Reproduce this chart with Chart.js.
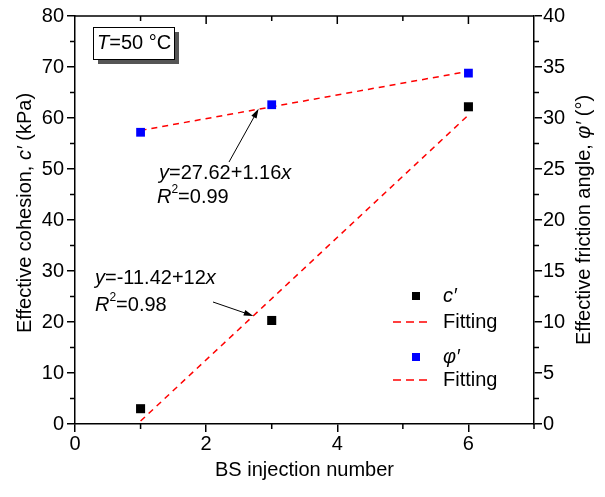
<!DOCTYPE html>
<html>
<head>
<meta charset="utf-8">
<script src="https://cdn.jsdelivr.net/npm/chart.js@4.4.1/dist/chart.umd.min.js"></script>
<style>
  html, body { margin: 0; padding: 0; background: #fff; }
  canvas { display: block; }
</style>
</head>
<body>
<canvas id="cohesion" width="605" height="497"></canvas>
<script>
const injections = [1, 3, 6];
const cohesion = [3.0, 20.3, 62.2];       // c' (kPa), left axis
const frictionAngle = [28.6, 31.3, 34.4]; // phi' (deg), right axis
const fitRange = [1, 6];
const cohesionFit = [0.58, 60.58];        // y = -11.42 + 12x
const frictionFit = [28.78, 34.58];       // y = 27.62 + 1.16x
const xTicks = [0, 2, 4, 6];

const FONT = '"Liberation Sans", Arial, sans-serif';
const TXT = 20;
const red = "#ff0000";

const toPoints = (xs, ys) => xs.map((x, i) => ({ x, y: ys[i] }));

// draws text made of plain / italic / superscript pieces
function richText(ctx, parts, x, y, size, align) {
  const fontFor = (s) =>
    (s === "i" ? "italic " : "") + (s === "sup" ? Math.round(size * 0.62) : size) + "px " + FONT;
  let total = 0;
  parts.forEach(([t, s]) => {
    ctx.font = fontFor(s);
    total += ctx.measureText(t).width;
  });
  let cx = align === "center" ? x - total / 2 : x;
  ctx.textAlign = "left";
  ctx.textBaseline = "middle";
  parts.forEach(([t, s]) => {
    ctx.font = fontFor(s);
    ctx.fillText(t, cx, s === "sup" ? y - size * 0.35 : y);
    cx += ctx.measureText(t).width;
  });
}

function arrow(ctx, x1, y1, x2, y2) {
  const ang = Math.atan2(y2 - y1, x2 - x1);
  ctx.beginPath();
  ctx.moveTo(x1, y1);
  ctx.lineTo(x2 - 6 * Math.cos(ang), y2 - 6 * Math.sin(ang));
  ctx.lineWidth = 1;
  ctx.strokeStyle = "#000";
  ctx.stroke();
  ctx.beginPath();
  ctx.moveTo(x2, y2);
  ctx.lineTo(x2 - 10 * Math.cos(ang - 0.3), y2 - 10 * Math.sin(ang - 0.3));
  ctx.lineTo(x2 - 10 * Math.cos(ang + 0.3), y2 - 10 * Math.sin(ang + 0.3));
  ctx.closePath();
  ctx.fillStyle = "#000";
  ctx.fill();
}

const decorations = {
  id: "decorations",
  afterDraw(chart) {
    const { ctx, chartArea: a, scales } = chart;
    const { x, y, y2 } = scales;
    ctx.save();
    ctx.strokeStyle = "#000";
    ctx.lineWidth = 1.5;

    // top frame line and minor tick marks
    ctx.beginPath();
    ctx.moveTo(a.left, a.top);
    ctx.lineTo(a.right, a.top);
    [1, 2, 3, 4, 5, 6].forEach((v) => {
      const px = x.getPixelForValue(v);
      ctx.moveTo(px, a.top);
      ctx.lineTo(px, a.top + (v % 2 ? 5 : 8));
    });
    [1, 3, 5, 7].forEach((v) => {
      const px = x.getPixelForValue(v);
      ctx.moveTo(px, a.bottom);
      ctx.lineTo(px, a.bottom + 5);
    });
    for (let v = 5; v < 80; v += 10) {
      const py = y.getPixelForValue(v);
      ctx.moveTo(a.left, py);
      ctx.lineTo(a.left - 5, py);
    }
    for (let v = 2.5; v < 40; v += 5) {
      const py = y2.getPixelForValue(v);
      ctx.moveTo(a.right, py);
      ctx.lineTo(a.right + 5, py);
    }
    ctx.stroke();

    ctx.fillStyle = "#000";

    // axis titles
    richText(ctx, [["BS injection number", ""]], (a.left + a.right) / 2, 470, TXT, "center");
    ctx.save();
    ctx.translate(25, 213);
    ctx.rotate(-Math.PI / 2);
    richText(ctx, [["Effective cohesion, ", ""], ["c\u2032", "i"], [" (kPa)", ""]], 0, 0, TXT, "center");
    ctx.restore();
    ctx.save();
    ctx.translate(584, 220);
    ctx.rotate(-Math.PI / 2);
    richText(ctx, [["Effective friction angle, ", ""], ["\u03c6\u2032", "i"], [" (\u00b0)", ""]], 0, 0, TXT, "center");
    ctx.restore();

    // temperature box
    ctx.fillStyle = "#555";
    ctx.fillRect(98, 32, 81, 32);
    ctx.fillStyle = "#fff";
    ctx.fillRect(93, 27, 81, 32);
    ctx.lineWidth = 1;
    ctx.strokeRect(93.5, 27.5, 81, 32);
    ctx.fillStyle = "#000";
    richText(ctx, [["T", "i"], ["=50 \u00b0C", ""]], 97, 43, TXT, "left");

    // fit equations with arrows
    richText(ctx, [["y", "i"], ["=-11.42+12", ""], ["x", "i"]], 95, 278, TXT, "left");
    richText(ctx, [["R", "i"], ["2", "sup"], ["=0.98", ""]], 95, 305, TXT, "left");
    arrow(ctx, 213, 302, x.getPixelForValue(2.72), y.getPixelForValue(21.2));

    richText(ctx, [["y", "i"], ["=27.62+1.16", ""], ["x", "i"]], 159, 173, TXT, "left");
    richText(ctx, [["R", "i"], ["2", "sup"], ["=0.99", ""]], 157, 197, TXT, "left");
    arrow(ctx, 229, 162, x.getPixelForValue(2.8), y2.getPixelForValue(30.9));

    // legend
    const lx = 416, tx = 443;
    const legendRows = [
      { type: "pt", color: "#000", label: [["c\u2032", "i"]], y: 296 },
      { type: "line", label: [["Fitting", ""]], y: 322 },
      { type: "pt", color: "#0000ff", label: [["\u03c6\u2032", "i"]], y: 357 },
      { type: "line", label: [["Fitting", ""]], y: 380 },
    ];
    legendRows.forEach((r) => {
      if (r.type === "pt") {
        ctx.fillStyle = r.color;
        ctx.fillRect(lx - 4, r.y - 4, 8, 8);
      } else {
        ctx.beginPath();
        ctx.setLineDash([8, 5]);
        ctx.strokeStyle = red;
        ctx.lineWidth = 1.5;
        ctx.moveTo(393, r.y);
        ctx.lineTo(431, r.y);
        ctx.stroke();
        ctx.setLineDash([]);
      }
      ctx.fillStyle = "#000";
      richText(ctx, r.label, tx, r.y, TXT, "left");
    });
    ctx.restore();
  },
};

const tickFont = { family: FONT, size: TXT };
const axisGrid = { drawOnChartArea: false, drawTicks: true, tickLength: 8, color: "#000", lineWidth: 1.5 };
const axisBorder = { display: true, color: "#000", width: 1.5 };

const ctxCohesion = document.getElementById("cohesion").getContext("2d");
new Chart(ctxCohesion, {
  type: "scatter",
  data: {
    datasets: [
      {
        label: "c'",
        data: toPoints(injections, cohesion),
        yAxisID: "y",
        pointStyle: "rect",
        pointRadius: 6.4,
        backgroundColor: "#000",
        borderWidth: 0,
      },
      {
        label: "Fitting",
        data: toPoints(fitRange, cohesionFit),
        yAxisID: "y",
        showLine: true,
        pointRadius: 0,
        borderColor: red,
        borderWidth: 1.5,
        borderDash: [6, 5],
      },
      {
        label: "phi'",
        data: toPoints(injections, frictionAngle),
        yAxisID: "y2",
        pointStyle: "rect",
        pointRadius: 6.2,
        backgroundColor: "#0000ff",
        borderWidth: 0,
      },
      {
        label: "Fitting",
        data: toPoints(fitRange, frictionFit),
        yAxisID: "y2",
        showLine: true,
        pointRadius: 0,
        borderColor: red,
        borderWidth: 1.5,
        borderDash: [6, 5],
      },
    ],
  },
  options: {
    responsive: false,
    devicePixelRatio: 1,
    animation: false,
    layout: { padding: { top: 16, left: 0, right: 0, bottom: 0 } },
    plugins: { legend: { display: false }, tooltip: { enabled: false } },
    scales: {
      x: {
        type: "linear",
        min: 0,
        max: 7,
        afterBuildTicks: (s) => { s.ticks = xTicks.map((v) => ({ value: v })); },
        afterFit: (s) => { s.height = 73; },
        grid: axisGrid,
        border: axisBorder,
        ticks: { color: "#000", font: tickFont, padding: 0, maxRotation: 0 },
      },
      y: {
        position: "left",
        min: 0,
        max: 80,
        afterFit: (s) => { s.width = 75; },
        grid: axisGrid,
        border: axisBorder,
        ticks: { stepSize: 10, color: "#000", font: tickFont, padding: 3 },
      },
      y2: {
        position: "right",
        min: 0,
        max: 40,
        afterFit: (s) => { s.width = 71; },
        grid: axisGrid,
        border: axisBorder,
        ticks: { stepSize: 5, color: "#000", font: tickFont, padding: 1 },
      },
    },
  },
  plugins: [decorations],
});
</script>
</body>
</html>
